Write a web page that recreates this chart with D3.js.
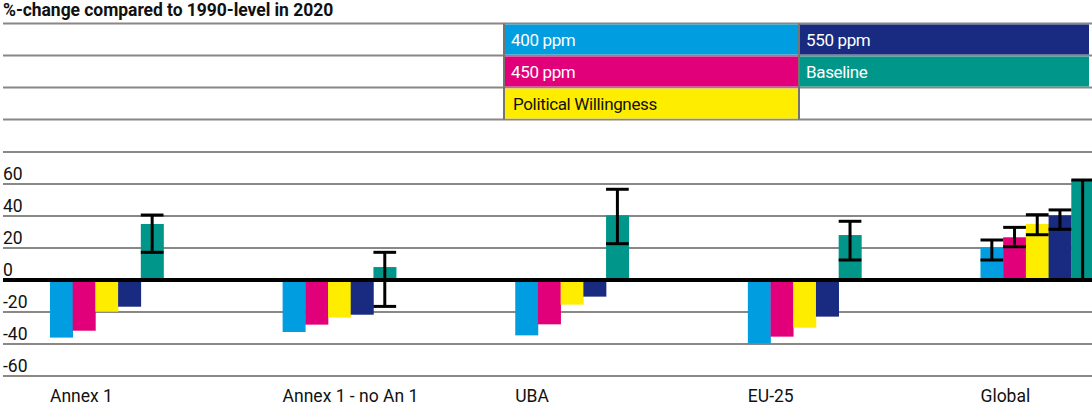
<!DOCTYPE html>
<html>
<head>
<meta charset="utf-8">
<script src="https://cdn.jsdelivr.net/npm/d3@7"></script>
<style>
  html, body { margin: 0; padding: 0; background: #fff; }
  svg { display: block; font-family: Roboto, "Open Sans", sans-serif; }
</style>
</head>
<body>
<svg id="chart" width="1092" height="409"></svg>
<script>
// Regions compared
const categories = ["Annex 1", "Annex 1 - no An 1", "UBA", "EU-25", "Global"];

// Scenarios, in bar order within each group
const seriesNames = ["400 ppm", "450 ppm", "Political Willingness", "550 ppm", "Baseline"];
const seriesColors = ["#009ee0", "#e2007a", "#ffed00", "#182b80", "#00968a"];

// %-change in 2020 compared to 1990, one array per scenario (order = categories)
const ppm400 = [-36.0, -32.5, -34.6, -39.6, 20.4];
const ppm450 = [-31.7, -27.9, -27.7, -35.4, 26.7];
const politicalWillingness = [-19.8, -23.5, -15.4, -29.8, 35.0];
const ppm550 = [-16.7, -21.7, -10.4, -22.9, 40.4];
const baseline = [35.0, 8.1, 40.4, 28.1, 62.5];

// Uncertainty ranges (null where no range is shown)
const ppm400Low  = [null, null, null, null, 12.5];
const ppm400High = [null, null, null, null, 25.0];
const ppm450Low  = [null, null, null, null, 20.8];
const ppm450High = [null, null, null, null, 32.9];
const pwLow      = [null, null, null, null, 28.3];
const pwHigh     = [null, null, null, null, 40.8];
const ppm550Low  = [null, null, null, null, 31.7];
const ppm550High = [null, null, null, null, 43.8];
const baselineLow  = [17.3, -16.5, 22.7, 12.5, 0.0];
const baselineHigh = [40.6, 17.3, 56.7, 36.7, 62.5];

// Y axis
const gridValues = [-60, -40, -20, 0, 20, 40, 60, 80];
const yTickLabels = ["-60", "-40", "-20", "0", "20", "40", "60"];

const seriesValues = [ppm400, ppm450, politicalWillingness, ppm550, baseline];
const seriesLow = [ppm400Low, ppm450Low, pwLow, ppm550Low, baselineLow];
const seriesHigh = [ppm400High, ppm450High, pwHigh, ppm550High, baselineHigh];

const W = 1092;
const svg = d3.select("#chart");

const y = d3.scaleLinear().domain([-60, 80]).range([376, 152]);
const x0 = d3.scaleBand().domain(categories).range([50, 1094]).paddingInner(0.512).paddingOuter(0);
const x1 = d3.scaleBand().domain(seriesNames).range([0, x0.bandwidth()]);

// Title
svg.append("text")
  .attr("x", 3).attr("y", 15.5)
  .attr("font-size", 17.5).attr("font-weight", "bold")
  .attr("letter-spacing", -0.05)
  .attr("fill", "#111")
  .text("%-change compared to 1990-level in 2020");

// Legend table
const legRows = [23.5, 55.5, 87.5, 119.5];
svg.append("g").selectAll("line").data(legRows).join("line")
  .attr("x1", 3).attr("x2", W)
  .attr("y1", d => d).attr("y2", d => d)
  .attr("stroke", "#8a8784").attr("stroke-width", 2);

const legendCells = [
  { name: seriesNames[0], col: 0, row: 0, color: seriesColors[0], text: "#fff" },
  { name: seriesNames[3], col: 1, row: 0, color: seriesColors[3], text: "#fff" },
  { name: seriesNames[1], col: 0, row: 1, color: seriesColors[1], text: "#fff" },
  { name: seriesNames[4], col: 1, row: 1, color: seriesColors[4], text: "#fff" },
  { name: seriesNames[2], col: 0, row: 2, color: seriesColors[2], text: "#111" }
];
const colX = [505, 800];
const colW = [294, 289];
const lg = svg.append("g");
lg.selectAll("rect").data(legendCells).join("rect")
  .attr("x", d => colX[d.col]).attr("y", d => legRows[d.row] + 1)
  .attr("width", d => colW[d.col]).attr("height", 30)
  .attr("fill", d => d.color);
lg.selectAll("text").data(legendCells).join("text")
  .attr("x", d => colX[d.col] + (d.row === 2 ? 8 : 6))
  .attr("y", d => legRows[d.row] + 22.5)
  .attr("font-size", 17).attr("letter-spacing", -0.35)
  .attr("fill", d => d.text)
  .text(d => d.name);
// vertical cell borders
[504, 799].forEach(xv => {
  svg.append("line").attr("x1", xv).attr("x2", xv)
    .attr("y1", 23.5).attr("y2", 119.5)
    .attr("stroke", "#77736f").attr("stroke-width", 2);
});

// Grid lines
svg.append("g").selectAll("line").data(gridValues.filter(v => v !== 0)).join("line")
  .attr("x1", 3).attr("x2", W)
  .attr("y1", d => y(d)).attr("y2", d => y(d))
  .attr("stroke", "#8a8784").attr("stroke-width", 2);

// Y tick labels, sitting just above their grid line
svg.append("g").selectAll("text").data(yTickLabels).join("text")
  .attr("x", 3)
  .attr("y", d => y(+d) - 4)
  .attr("font-size", 17.5).attr("fill", "#111")
  .text(d => d);

// Bars
const groups = svg.append("g").selectAll("g").data(categories).join("g")
  .attr("transform", d => `translate(${x0(d)},0)`);

groups.selectAll("rect")
  .data((c, i) => seriesNames.map((s, k) => ({ s, k, v: seriesValues[k][i] })))
  .join("rect")
  .attr("x", d => x1(d.s))
  .attr("width", x1.bandwidth() + 0.3)
  .attr("y", d => Math.min(y(0), y(d.v)))
  .attr("height", d => Math.abs(y(d.v) - y(0)))
  .attr("fill", d => seriesColors[d.k]);

// Zero line
svg.append("line")
  .attr("x1", 3).attr("x2", W)
  .attr("y1", y(0)).attr("y2", y(0))
  .attr("stroke", "#000").attr("stroke-width", 4);

// Error bars
const eb = groups.selectAll("g.err")
  .data((c, i) => seriesNames.map((s, k) => ({ s, k, lo: seriesLow[k][i], hi: seriesHigh[k][i] }))
    .filter(d => d.lo !== null))
  .join("g").attr("class", "err");
eb.append("line")
  .attr("x1", d => x1(d.s) + x1.bandwidth() / 2).attr("x2", d => x1(d.s) + x1.bandwidth() / 2)
  .attr("y1", d => y(d.hi)).attr("y2", d => y(d.lo))
  .attr("stroke", "#000").attr("stroke-width", 3);
eb.selectAll("line.cap")
  .data(d => [{ s: d.s, v: d.hi }, { s: d.s, v: d.lo }])
  .join("line").attr("class", "cap")
  .attr("x1", d => x1(d.s)).attr("x2", d => x1(d.s) + x1.bandwidth())
  .attr("y1", d => y(d.v)).attr("y2", d => y(d.v))
  .attr("stroke", "#000").attr("stroke-width", 3);

// Category labels
svg.append("g").selectAll("text").data(categories).join("text")
  .attr("x", d => x0(d))
  .attr("y", 402)
  .attr("font-size", 17.5).attr("fill", "#111")
  .text(d => d);
</script>
</body>
</html>
